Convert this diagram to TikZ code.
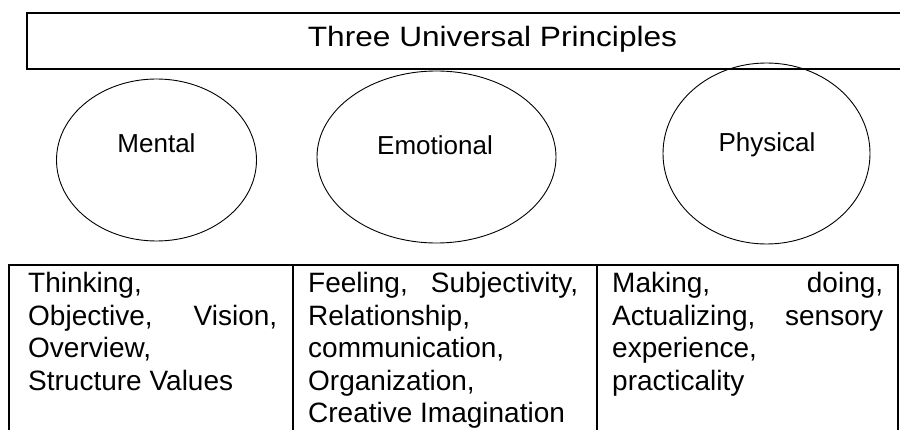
\documentclass[tikz,border=0pt]{standalone}
\usepackage{fontspec}
\setmainfont{Liberation Sans}
\newfontfamily\headfont{Liberation Sans}[FakeStretch=1.13]
\usetikzlibrary{shapes.geometric}
\begin{document}
\begin{tikzpicture}[x=1pt,y=-1pt,
  boxline/.style={line width=1.8pt},
  oval/.style={draw, ellipse, line width=0.9pt, inner sep=0pt},
  ovaltext/.style={anchor=base, inner sep=0pt, font=\fontsize{26}{30}\selectfont},
  celltext/.style={anchor=base west, inner sep=0pt, font=\fontsize{28}{32.4}\selectfont}]
\useasboundingbox (0,0) rectangle (900,430);
\clip (0,0) rectangle (900,430);
% title box
\node[draw, boxline, anchor=north west, minimum width=950pt, minimum height=56pt, inner sep=0pt] (titlebox) at (26,12) {};
\node[anchor=base, inner sep=0pt, font=\headfont\fontsize{28}{32}\selectfont] (title) at (492.5,47) {Three Universal Principles};
% ellipses
\node[oval, minimum width=200pt, minimum height=162pt] (mental) at (156.5,160) {};
\node[oval, minimum width=239pt, minimum height=172pt] (emotional) at (436.5,157) {};
\node[oval, minimum width=207pt, minimum height=181pt] (physical) at (766.5,153.5) {};
\node[ovaltext] (mentalT) at (156.5,153) {Mental};
\node[ovaltext] (emotionalT) at (435,155) {Emotional};
\node[ovaltext] (physicalT) at (767,152) {Physical};
% table
\coordinate (t1) at (9,265);
\coordinate (t4) at (898,265);
\draw[boxline] (9,445) -- (t1) -- (t4) -- (898,445);
\draw[boxline] (293,265) -- (293,445);
\draw[boxline] (597,265) -- (597,445);
\node[celltext] (c1) at (28,293) {\parbox[t]{249pt}{Thinking,\\ Objective,\hfill Vision,\\ Overview,\\ Structure Values}};
\node[celltext] (c2) at (308,293) {\parbox[t]{270pt}{Feeling,\hfill Subjectivity,\\ Relationship,\\ communication,\\ Organization,\\ Creative Imagination}};
\node[celltext] (c3) at (612,293) {\parbox[t]{271pt}{Making,\hfill doing,\\ Actualizing,\hfill sensory\\ experience,\\ practicality}};
\end{tikzpicture}
\end{document}
